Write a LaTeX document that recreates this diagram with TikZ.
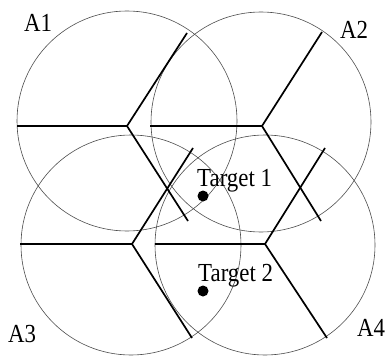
\documentclass[tikz,border=0pt]{standalone}
\usepackage{fontspec}
\setmainfont{Liberation Serif}
\usetikzlibrary{positioning}
\newcommand{\narrowtxt}[1]{\scalebox{0.88}[1]{#1}}
\tikzset{
  sensing/.style={draw=black!70,line width=0.6pt},
  cell/.style={draw=black,line width=1.7pt},
  border/.style={draw=black,line width=2.3pt},
  lbl/.style={font=\fontsize{26}{28}\selectfont,inner sep=0pt},
}
\tikzset{tgt/.style={circle,fill=black,inner sep=0pt,minimum size=11pt}}

\begin{document}
\begin{tikzpicture}[x=1pt,y=-1pt]
\useasboundingbox (0,0) rectangle (390,358);
\coordinate (c1) at (127,121);
\coordinate (c2) at (261,122);
\coordinate (c3) at (131,245);
\coordinate (c4) at (265,245);
\coordinate (h1) at (127,126);
\coordinate (h2) at (262,126);
\coordinate (h3) at (132,244);
\coordinate (h4) at (265,244);
\coordinate (l1) at (17,126);
\coordinate (u1) at (187,33);
\coordinate (d1) at (188,221);
\coordinate (l2) at (150,126);
\coordinate (u2) at (322,32);
\coordinate (d2) at (321,221);
\coordinate (l3) at (20,244);
\coordinate (u3) at (193,148);
\coordinate (d3) at (192,338);
\coordinate (l4) at (155,244);
\coordinate (u4) at (325,148);
\coordinate (d4) at (327,338);
\draw[sensing] (c1) circle[radius=110pt];
\draw[sensing] (c2) circle[radius=110pt];
\draw[sensing] (c3) circle[radius=110pt];
\draw[sensing] (c4) circle[radius=110pt];
\draw[border] (l1)--(h1);
\draw[cell] (u1)--(h1)--(d1);
\draw[border] (l2)--(h2);
\draw[cell] (u2)--(h2)--(d2);
\draw[border] (l3)--(h3);
\draw[cell] (u3)--(h3)--(d3);
\draw[border] (l4)--(h4);
\draw[cell] (u4)--(h4)--(d4);
\node[tgt] (t1) at (203,196) {};
\node[tgt] (t2) at (203,291) {};
\node[lbl,anchor=base west] (t1lab) at (197,186) {\narrowtxt{Target 1}};
\node[lbl,anchor=base west] (t2lab) at (198,281) {\narrowtxt{Target 2}};
\node[lbl,anchor=base] (a1) at (38,32) {\narrowtxt{A1}};
\node[lbl,anchor=base] (a2) at (354,39) {\narrowtxt{A2}};
\node[lbl,anchor=base] (a3) at (22,342) {\narrowtxt{A3}};
\node[lbl,anchor=base] (a4) at (371,336) {\narrowtxt{A4}};
\end{tikzpicture}
\end{document}
